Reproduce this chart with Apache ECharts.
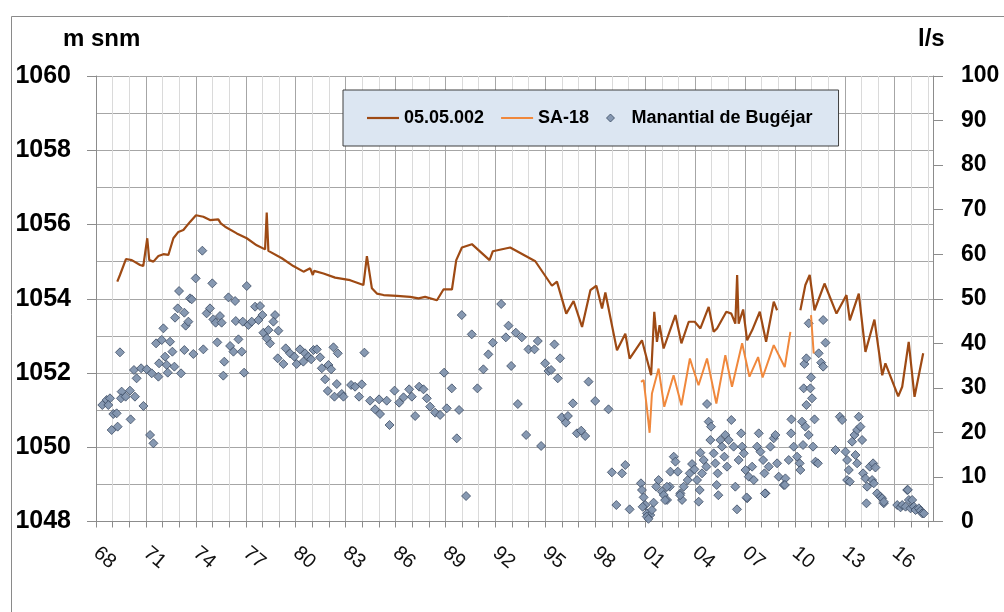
<!DOCTYPE html>
<html>
<head>
<meta charset="utf-8">
<script src="https://cdn.jsdelivr.net/npm/echarts@6/dist/echarts.min.js"></script>
<style>
html,body{margin:0;padding:0;background:#fff;}
#chart{width:1004px;height:612px;}
</style>
</head>
<body>
<div id="chart"></div>
<script>
// ---------- DATA ----------
const xLabelYears = [1968,1971,1974,1977,1980,1983,1986,1989,1992,1995,1998,2001,2004,2007,2010,2013,2016];

// 05.05.002 (m snm, left axis); null = gap in record
const levelYears = [1969.28,1969.44,1969.80,1970.15,1970.65,1970.84,1971.08,1971.20,1971.45,1971.75,1972.05,1972.35,1972.65,1972.95,1973.25,1973.65,1974.01,1974.45,1974.85,1975.35,1975.50,1975.76,1976.46,1977.06,1977.66,1978.16,1978.26,1978.36,1979.17,1979.86,1980.47,1980.87,1981.03,1981.11,1981.67,1982.37,1982.47,1983.27,1984.07,1984.28,1984.58,1984.88,1985.28,1986.08,1986.88,1987.38,1987.78,1988.49,1988.88,1989.39,1989.65,1989.99,1990.59,1991.65,1991.85,1992.89,1994.40,1994.90,1995.40,1995.70,1996.26,1996.70,1997.21,1997.71,1998.07,1998.41,1998.61,1999.31,1999.81,2000.07,2000.81,2001.36,2001.55,2001.71,2001.87,2002.11,2002.82,2003.18,2003.62,2003.98,2004.32,2004.82,2005.12,2005.32,2005.88,2006.18,2006.42,2006.53,2006.62,2006.89,2007.13,2007.43,2007.89,2008.27,2008.73,2008.93,2009.60,2010.33,2010.63,2010.89,2011.18,2011.78,2012.50,2013.10,2013.30,2013.84,2014.24,2014.78,2015.25,2015.44,2016.21,2016.45,2016.84,2016.95,2017.19,2017.71];
const levelValues = [1054.46,1054.64,1055.07,1055.04,1054.91,1054.88,1055.63,1055.04,1055.00,1055.15,1055.20,1055.18,1055.63,1055.80,1055.85,1056.07,1056.25,1056.21,1056.12,1056.14,1056.03,1055.94,1055.76,1055.63,1055.44,1055.33,1056.32,1055.29,1055.09,1054.88,1054.73,1054.82,1054.64,1054.75,1054.68,1054.57,1054.61,1054.50,1054.37,1055.15,1054.28,1054.14,1054.10,1054.08,1054.05,1054.01,1054.05,1053.96,1054.25,1054.25,1055.04,1055.38,1055.47,1055.04,1055.28,1055.38,1055.01,1054.68,1054.35,1054.46,1053.60,1053.94,1053.24,1054.23,1054.35,1053.74,1054.17,1052.61,1053.06,1052.39,1052.88,1051.94,1053.65,1052.84,1053.29,1052.66,1053.56,1052.80,1053.38,1053.38,1053.20,1053.78,1053.11,1053.20,1053.65,1053.60,1053.33,1054.64,1053.33,1053.71,1052.88,1053.15,1053.65,1052.84,1053.92,1053.69,null,1053.69,1054.37,1054.64,1053.69,1054.41,1053.60,1054.10,1053.42,1054.14,1052.57,1053.44,1051.94,1052.26,1051.37,1051.63,1052.84,1052.80,1051.36,1052.53];

// SA-18 (m snm, left axis)
const sa18Years = [2000.75,2000.91,2001.11,2001.27,2001.41,2001.81,2002.15,2002.71,2003.18,2003.69,2003.85,2004.21,2004.72,2005.28,2005.82,2006.22,2006.83,2007.27,2007.79,2008.06,2008.73,2009.39,2009.73,2010.30,2010.97,2011.13];
const sa18Values = [1051.76,1051.81,1051.04,1050.39,1051.45,1052.12,1051.09,1051.94,1051.13,1052.39,1052.16,1051.67,1052.39,1051.18,1052.48,1051.63,1052.80,1051.90,1052.43,1051.88,1052.75,1052.16,1053.11,null,1053.56,1052.53];

// Manantial de Bugéjar (l/s, right axis)
const springYears = [1969.44,1968.38,1968.64,1968.84,1968.74,1969.04,1969.24,1968.94,1969.30,1969.54,1969.50,1969.78,1970.04,1970.34,1970.08,1970.28,1970.44,1970.71,1971.05,1970.85,1971.25,1971.45,1971.35,1971.75,1971.61,1971.95,1972.45,1972.05,1971.79,1972.15,1972.25,1972.31,1972.59,1972.71,1973.11,1972.75,1972.91,1972.99,1973.31,1973.39,1973.55,1973.31,1973.65,1973.75,1973.99,1973.85,1974.39,1974.45,1974.65,1974.85,1974.99,1975.05,1975.19,1975.45,1975.55,1975.29,1975.71,1975.65,1975.96,1976.36,1976.40,1976.06,1976.26,1976.56,1976.76,1976.90,1977.06,1976.82,1977.16,1977.36,1977.56,1977.86,1977.76,1978.00,1978.06,1978.36,1978.46,1978.26,1978.76,1978.66,1978.96,1978.92,1979.26,1979.40,1979.66,1979.92,1980.06,1980.26,1980.46,1980.56,1980.76,1980.93,1981.07,1981.27,1981.47,1981.57,1981.77,1981.97,1982.13,1982.27,1982.53,1981.93,1982.33,1982.47,1982.77,1982.87,1983.33,1983.57,1983.97,1983.81,1984.13,1984.47,1984.77,1985.07,1985.01,1985.47,1985.64,1985.94,1986.22,1986.48,1986.82,1986.98,1987.18,1987.42,1987.68,1987.88,1988.08,1988.38,1988.68,1988.92,1989.08,1989.38,1989.68,1989.82,1989.98,1990.24,1990.58,1990.92,1991.28,1991.58,1991.85,1992.35,1992.63,1992.79,1992.95,1993.23,1993.35,1993.59,1993.99,1994.35,1994.55,1993.85,1994.75,1994.99,1995.19,1995.35,1995.55,1995.75,1995.89,1995.99,1996.24,1996.36,1996.66,1996.90,1997.16,1997.40,1997.60,1998.00,1998.80,1999.00,
1999.61,1999.81,1999.27,2000.07,2000.75,2000.81,2000.91,2001.01,2001.11,2001.31,2001.41,2001.51,2001.67,2001.81,2002.01,2002.12,2002.32,2002.48,2002.52,2002.72,2002.82,2002.96,2003.12,2003.22,2003.32,2003.56,2003.68,2003.82,2003.96,2004.12,2004.28,2004.22,2004.42,2004.32,2004.52,2004.72,2004.82,2004.96,2004.92,2004.68,2005.12,2005.22,2005.36,2005.52,2005.62,2005.76,2005.82,2005.92,2006.02,2006.18,2006.32,2006.42,2006.52,2006.62,2006.77,2006.83,2006.93,2007.03,2007.13,2007.23,2007.43,2007.53,2007.73,2007.83,2007.93,2008.09,2008.17,2008.23,2008.43,2008.53,2008.73,2008.83,2008.93,2009.03,2009.33,2009.43,2009.63,2009.77,2009.79,2009.93,2010.13,2010.29,2010.33,2010.43,2010.49,2010.63,2010.53,2010.57,2010.69,2010.83,2010.93,2011.03,2010.69,2010.83,2011.09,2011.18,2011.24,2011.38,2010.97,2011.43,2011.58,2011.70,2011.70,2011.84,2012.44,2012.70,2012.84,2013.04,2013.14,2013.24,2013.14,2013.30,2013.44,2013.58,2013.74,2013.84,2013.94,2014.04,2013.64,2013.74,2014.10,2014.24,2014.34,2014.50,2014.70,2014.84,2014.64,2014.74,2014.94,2015.14,2015.34,2014.30,2015.24,2016.15,2016.35,2016.45,2016.65,2016.75,2016.85,2016.95,2017.05,2017.15,2017.25,2017.45,2017.55,2017.65,
2000.85,2001.10,2001.20,2002.31,2002.20,2003.10,2005.40,2005.30,2007.10,2008.20,2009.40,2015.35,2016.79,2017.75];
const springFlows = [37.97,26.15,27.27,27.65,26.15,24.13,24.28,20.54,21.29,29.15,27.65,28.02,29.37,28.02,22.93,34.01,32.14,34.39,34.16,25.93,19.42,17.55,33.26,32.51,39.99,40.74,40.36,43.36,35.51,37.00,35.13,33.41,38.12,34.76,33.26,45.75,47.84,51.73,46.87,43.96,44.86,38.49,50.09,49.87,54.58,37.60,60.79,38.64,46.72,47.84,53.46,45.37,44.63,46.12,44.63,40.21,35.88,32.74,50.31,49.49,45.00,39.40,38.12,40.89,38.12,33.41,52.86,44.86,44.11,44.86,48.22,48.37,45.22,46.34,42.38,42.98,39.99,41.11,46.34,44.86,42.83,36.63,35.36,38.87,37.75,37.00,35.36,38.64,35.88,37.75,37.00,36.41,38.49,38.64,36.85,34.39,31.92,35.13,34.16,39.10,37.75,29.30,28.02,30.86,28.62,28.02,30.64,30.26,30.79,28.02,37.90,27.12,25.18,24.13,27.42,27.12,21.66,29.37,26.67,27.87,29.67,28.02,23.68,30.26,29.67,27.65,25.78,24.43,23.91,33.41,25.40,29.89,18.67,25.03,46.34,5.72,42.01,29.89,34.16,37.52,40.14,48.82,41.34,43.96,34.91,42.38,26.37,41.34,38.64,38.64,40.51,19.42,16.95,35.51,33.78,34.01,39.76,32.14,36.63,23.38,22.18,23.68,26.52,19.79,20.39,19.19,31.39,27.05,25.18,11.04,
10.81,12.68,3.70,2.73,8.57,7.07,5.42,3.70,1.83,1.46,2.58,4.23,7.82,9.31,6.70,5.95,4.83,7.82,11.19,14.55,13.43,11.19,6.32,4.83,7.82,9.31,10.81,12.90,11.71,9.31,7.07,4.45,10.81,15.45,13.80,26.37,22.41,21.29,18.29,12.31,15.30,13.06,10.81,18.29,16.80,14.55,19.42,12.31,18.29,22.78,16.80,7.82,2.73,13.80,19.79,16.80,15.30,11.56,5.20,10.06,12.31,9.31,16.80,19.79,15.67,13.80,10.81,6.32,12.31,16.80,18.67,19.42,13.06,10.06,8.19,9.68,13.80,19.79,22.93,16.80,14.55,13.06,11.56,22.41,17.17,21.29,29.89,35.36,36.63,44.49,29.89,27.65,26.15,19.42,16.80,22.93,13.43,13.06,32.36,37.75,35.66,34.76,45.22,40.14,16.05,23.53,22.78,15.67,13.80,11.56,9.31,8.94,17.92,19.42,20.54,23.53,21.29,18.29,14.93,13.06,10.81,9.68,7.82,12.31,13.06,12.12,9.31,8.57,6.32,5.57,4.08,4.08,5.20,3.70,3.18,3.70,3.33,7.07,4.83,2.96,4.83,3.33,2.58,2.96,2.43,1.83,
3.30,1.10,0.60,7.80,4.80,5.90,5.90,8.20,5.40,6.30,8.20,4.40,7.10,1.80];

// ---------- CHART ----------
const zip = (xs, ys) => xs.map((x, i) => [x, ys[i]]);
const FONT = '"Liberation Sans", Arial, sans-serif';
const BROWN = '#9e4a14';
const ORANGE = '#f0883c';
const LINE_ICON = 'path://M0,0 L32,0 L32,2.2 L0,2.2 Z';
const DIAMOND_ICON = 'path://M4,0 L8,4 L4,8 L0,4 Z';

const chart = echarts.init(document.getElementById('chart'), null, {renderer: 'canvas'});
chart.setOption({
  animation: false,
  backgroundColor: '#fff',
  textStyle: {fontFamily: FONT},
  grid: {left: 96, right: 71, top: 76, bottom: 90.5, containLabel: false, outerBoundsMode: 'none'},
  legend: {
    left: 343, top: 90,
    padding: [19, 26, 19, 24],
    backgroundColor: '#dce6f2',
    borderColor: '#3f3f3f', borderWidth: 1, borderRadius: 0,
    itemWidth: 32, itemHeight: 8, itemGap: 17,
    symbolKeepAspect: true,
    textStyle: {fontFamily: FONT, fontSize: 18, fontWeight: 'bold', color: '#000'},
    data: [
      {name: '05.05.002', icon: LINE_ICON, itemStyle: {color: BROWN, borderWidth: 0}},
      {name: 'SA-18', icon: LINE_ICON, itemStyle: {color: ORANGE, borderWidth: 0}},
      {name: 'Manantial de Bugéjar', icon: DIAMOND_ICON, itemStyle: {color: '#8194ae', borderColor: '#34445c', borderWidth: 0.8}}
    ]
  },
  xAxis: {
    type: 'value', min: 1968, max: 2018.3, interval: 1,
    axisLine: {show: true, lineStyle: {color: '#8c8c8c', width: 1}},
    axisTick: {show: true, length: 6, lineStyle: {color: '#8c8c8c'}},
    axisLabel: {
      rotate: -40, margin: 29, fontFamily: FONT, fontSize: 20, color: '#111',
      showMinLabel: true, showMaxLabel: false,
      formatter: v => xLabelYears.indexOf(v) >= 0 ? String(v % 100).padStart(2, '0') : ''
    },
    splitLine: {show: true, lineStyle: {color: ['#a6a6a6', '#dadada', '#dadada'], width: 1}}
  },
  yAxis: [
    {
      type: 'value', min: 1048, max: 1060, interval: 2, position: 'left',
      axisLine: {show: true, lineStyle: {color: '#8c8c8c'}},
      axisTick: {show: true, length: 9, lineStyle: {color: '#8c8c8c'}},
      axisLabel: {margin: 25, fontFamily: FONT, fontSize: 25, fontWeight: 'bold', color: '#000',
                  formatter: v => String(v)},
      splitLine: {show: true, lineStyle: {color: '#a6a6a6', width: 1}},
      minorTick: {show: false, splitNumber: 2},
      minorSplitLine: {show: true, lineStyle: {color: '#a6a6a6', width: 1}}
    },
    {
      type: 'value', min: 0, max: 100, interval: 10, position: 'right',
      axisLine: {show: true, lineStyle: {color: '#8c8c8c'}},
      axisTick: {show: true, length: 10, lineStyle: {color: '#8c8c8c'}},
      axisLabel: {margin: 28, fontFamily: FONT, fontSize: 23, fontWeight: 'bold', color: '#000',
                  formatter: v => String(v)},
      splitLine: {show: false}
    }
  ],
  graphic: [
    {type: 'rect', left: 9, top: 14, z: -10, silent: true,
     shape: {x: 0, y: 0, width: 1010, height: 610},
     style: {fill: 'none', stroke: '#8a8a8a', lineWidth: 1}},
    {type: 'text', left: 63, top: 27, silent: true,
     style: {text: 'm snm', font: 'bold 24px ' + FONT, fill: '#000'}},
    {type: 'text', left: 918, top: 27, silent: true,
     style: {text: 'l/s', font: 'bold 24px ' + FONT, fill: '#000'}}
  ],
  series: [
    {
      name: '05.05.002', type: 'line', yAxisIndex: 0,
      data: zip(levelYears, levelValues),
      symbol: 'none', connectNulls: false, z: 3,
      lineStyle: {color: BROWN, width: 2.2}, itemStyle: {color: BROWN}
    },
    {
      name: 'SA-18', type: 'line', yAxisIndex: 0,
      data: zip(sa18Years, sa18Values),
      symbol: 'none', connectNulls: false, z: 3,
      lineStyle: {color: ORANGE, width: 2}, itemStyle: {color: ORANGE}
    },
    {
      name: 'Manantial de Bugéjar', type: 'scatter', yAxisIndex: 1,
      data: zip(springYears, springFlows),
      symbol: 'diamond', symbolSize: 9, z: 2,
      itemStyle: {color: '#8194ae', borderColor: '#34445c', borderWidth: 0.8, opacity: 0.95}
    }
  ]
});
</script>
</body>
</html>
